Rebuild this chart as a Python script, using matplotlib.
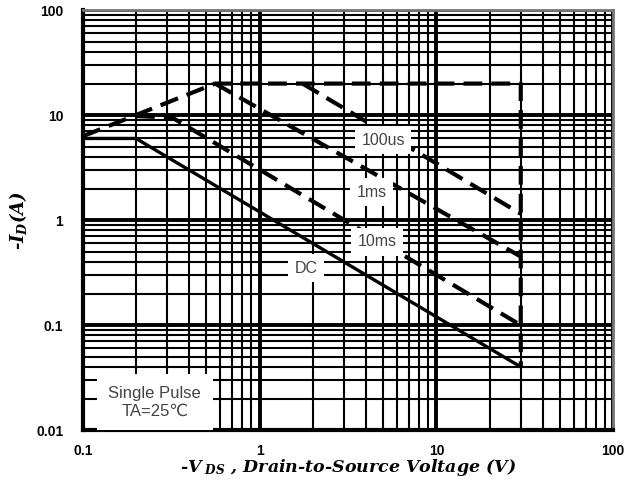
import matplotlib
matplotlib.use("Agg")
import matplotlib.pyplot as plt
from matplotlib.ticker import FixedLocator, FixedFormatter, LogLocator, NullFormatter

plt.rcParams["mathtext.fontset"] = "custom"
plt.rcParams["mathtext.it"] = "DejaVu Serif:italic:bold"
plt.rcParams["mathtext.rm"] = "DejaVu Serif:bold"

# safe operating area curves (V_DS in V, I_D in A)
dc_v = [0.1, 0.2, 30]
dc_i = [6.0, 6.0, 0.04]
ms10_v = [0.2, 0.32, 30]
ms10_i = [9.8, 9.5, 0.1]
ms1_v = [0.56, 30]
ms1_i = [20, 0.45]
us100_v = [1.75, 30]
us100_i = [20, 1.15]
# outer limit: rising R_DS(on) part, I_D max, V_DS max
limit_v = [0.1, 0.56, 30, 30]
limit_i = [6.3, 20, 20, 0.04]

labels = ["100us", "1ms", "10ms", "DC"]
label_v = [5.0, 4.3, 4.6, 1.83]
label_i = [5.8, 1.85, 0.62, 0.35]

xticks = [0.1, 1, 10, 100]
yticks = [0.01, 0.1, 1, 10, 100]

fig = plt.figure(figsize=(6.27, 4.86), dpi=100)
ax = fig.add_axes([0.132, 0.115, 0.846, 0.864])
ax.set_xscale("log"); ax.set_yscale("log")
ax.set_xlim(0.1, 100); ax.set_ylim(0.01, 100)

ax.xaxis.set_major_locator(FixedLocator(xticks))
ax.xaxis.set_major_formatter(FixedFormatter([str(t) for t in xticks]))
ax.yaxis.set_major_locator(FixedLocator(yticks))
ax.yaxis.set_major_formatter(FixedFormatter([str(t) for t in yticks]))
minor = LogLocator(base=10, subs=range(2, 10))
ax.xaxis.set_minor_locator(minor); ax.yaxis.set_minor_locator(minor)
ax.xaxis.set_minor_formatter(NullFormatter()); ax.yaxis.set_minor_formatter(NullFormatter())

ax.grid(which="major", color="black", lw=2.8)
ax.grid(which="minor", color="black", lw=1.5)
ax.tick_params(which="both", length=0, labelsize=10)
ax.tick_params(axis="x", pad=10)
ax.tick_params(axis="y", pad=14)
for lab in ax.get_xticklabels() + ax.get_yticklabels():
    lab.set_fontweight("bold"); lab.set_family("Liberation Sans")

for s in ("left", "bottom"):
    ax.spines[s].set_linewidth(3); ax.spines[s].set_color("black")
for s in ("top", "right"):
    ax.spines[s].set_linewidth(2); ax.spines[s].set_color("#777777")

dash = dict(color="black", lw=3, ls=(0, (4.5, 2.2)), zorder=3)
ax.plot(dc_v, dc_i, color="black", lw=2.4, zorder=3)
ax.plot(ms10_v, ms10_i, **dash)
ax.plot(ms1_v, ms1_i, **dash)
ax.plot(us100_v, us100_i, **dash)
ax.plot(limit_v, limit_i, **dash)

box = dict(boxstyle="square,pad=0.4", fc="white", ec="none")
for t, v, i in zip(labels, label_v, label_i):
    ax.text(v, i, t, ha="center", va="center", fontsize=11.5, color="#444444",
            family="Liberation Sans", bbox=box, zorder=4)

ax.text(0.255, 0.0185, "Single Pulse\nTA=25\u2103", ha="center", va="center",
        fontsize=12, color="#444444", family=["Liberation Sans", "DejaVu Sans"],
        linespacing=1.25, zorder=4,
        bbox=dict(boxstyle="square,pad=0.7", fc="white", ec="none"))

ax.set_xlabel(r"-$V_{\ DS}$ , Drain-to-Source Voltage (V)", fontsize=12.5,
              fontweight="bold", style="italic", family="DejaVu Serif", labelpad=-1)
ax.set_ylabel(r"-$I_D$(A)", fontsize=13, fontweight="bold", style="italic",
              family="DejaVu Serif", labelpad=5)

fig.savefig("out.png", dpi=100)
